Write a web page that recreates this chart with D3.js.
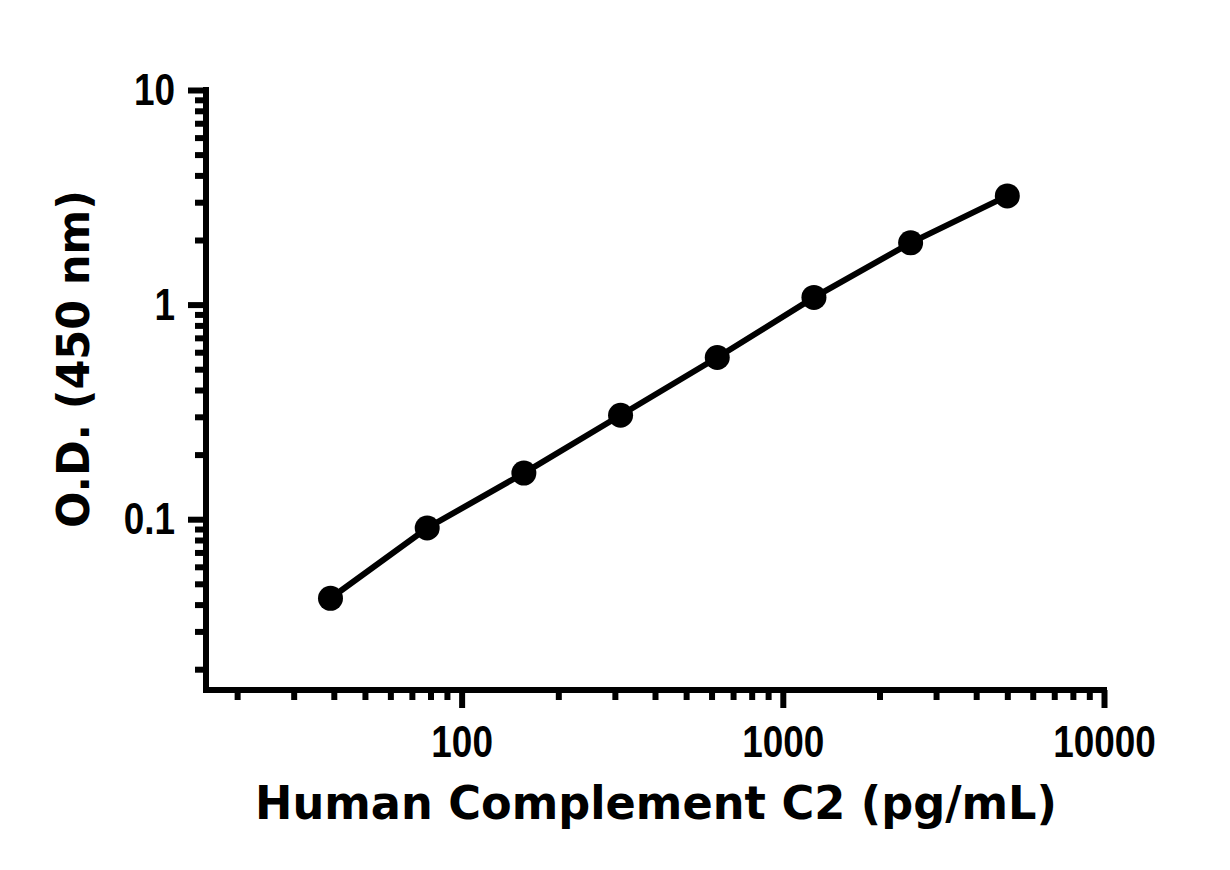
<!DOCTYPE html>
<html>
<head>
<meta charset="utf-8">
<script src="https://cdn.jsdelivr.net/npm/d3@7"></script>
<style>
  body { margin: 0; background: #fff; }
  svg { display: block; }
</style>
</head>
<body>
<div id="chart"></div>
<script>
// Standard curve: concentration (pg/mL) vs O.D. at 450 nm
const concentrations = [39.06, 78.13, 156.25, 312.5, 625, 1250, 2500, 5000]
const odValues = [0.0428, 0.091, 0.164, 0.305, 0.567, 1.08, 1.94, 3.21]

const xMajorTicks = [100, 1000, 10000]
const xMinorTicks = [20, 30, 40, 50, 60, 70, 80, 90,
  200, 300, 400, 500, 600, 700, 800, 900,
  2000, 3000, 4000, 5000, 6000, 7000, 8000, 9000]
const yMajorTicks = [0.1, 1, 10]
const yMinorTicks = [0.02, 0.03, 0.04, 0.05, 0.06, 0.07, 0.08, 0.09,
  0.2, 0.3, 0.4, 0.5, 0.6, 0.7, 0.8, 0.9,
  2, 3, 4, 5, 6, 7, 8, 9]

const xTitle = "Human Complement C2 (pg/mL)"
const yTitle = "O.D. (450 nm)"

const width = 1230
const height = 870

const svg = d3.select("#chart")
  .append("svg")
  .attr("width", width)
  .attr("height", height)

const x = d3.scaleLog().domain([16, 10000]).range([206, 1104])
const y = d3.scaleLog().domain([0.016, 10]).range([690, 90])

const tickFont = "'Liberation Sans', Arial, sans-serif"
const titleFont = "'DejaVu Sans', 'Century Gothic', sans-serif"

// Axes
const yAxisG = svg.append("g").attr("transform", `translate(${x.range()[0]},0)`)
yAxisG.append("g").call(d3.axisLeft(y).tickValues(yMinorTicks).tickSize(11).tickFormat(""))
yAxisG.append("g").call(d3.axisLeft(y).tickValues(yMajorTicks).tickSize(18).tickPadding(13)
  .tickFormat(d => d3.format("~g")(d)))

const xAxisG = svg.append("g").attr("transform", `translate(0,${y.range()[0]})`)
xAxisG.append("g").call(d3.axisBottom(x).tickValues(xMinorTicks).tickSize(10).tickFormat(""))
xAxisG.append("g").call(d3.axisBottom(x).tickValues(xMajorTicks).tickSize(18).tickPadding(17)
  .tickFormat(d => String(d)))

svg.selectAll(".domain").remove()
svg.selectAll(".tick line").attr("stroke", "#000").attr("stroke-width", 6)
svg.selectAll(".tick text")
  .attr("fill", "#000")
  .style("font-family", tickFont)
  .style("font-weight", "bold")
  .style("font-size", "45px")
  .each(function () {
    // squeeze to a narrow bold look
    const w = this.getComputedTextLength()
    d3.select(this).attr("textLength", w * 0.82).attr("lengthAdjust", "spacingAndGlyphs")
  })

// Axis lines
svg.append("line")
  .attr("x1", x.range()[0]).attr("x2", x.range()[0])
  .attr("y1", y.range()[0]).attr("y2", y.range()[1])
  .attr("stroke", "#000").attr("stroke-width", 6).attr("stroke-linecap", "square")
svg.append("line")
  .attr("x1", x.range()[0]).attr("x2", x.range()[1])
  .attr("y1", y.range()[0]).attr("y2", y.range()[0])
  .attr("stroke", "#000").attr("stroke-width", 6).attr("stroke-linecap", "square")

// Curve
const pts = concentrations.map((c, i) => ({ c, od: odValues[i] }))
svg.append("path")
  .datum(pts)
  .attr("fill", "none")
  .attr("stroke", "#000")
  .attr("stroke-width", 6)
  .attr("d", d3.line().x(d => x(d.c)).y(d => y(d.od)))

svg.append("g")
  .selectAll("circle")
  .data(pts)
  .join("circle")
  .attr("cx", d => x(d.c))
  .attr("cy", d => y(d.od))
  .attr("r", 12.5)
  .attr("fill", "#000")

// Titles
svg.append("text")
  .attr("x", 656)
  .attr("y", 819)
  .attr("text-anchor", "middle")
  .attr("textLength", 802)
  .attr("lengthAdjust", "spacingAndGlyphs")
  .style("font-family", titleFont)
  .style("font-weight", "bold")
  .style("font-size", "47px")
  .text(xTitle)

svg.append("text")
  .attr("transform", "translate(89,359) rotate(-90)")
  .attr("text-anchor", "middle")
  .attr("textLength", 338)
  .attr("lengthAdjust", "spacingAndGlyphs")
  .style("font-family", titleFont)
  .style("font-weight", "bold")
  .style("font-size", "45px")
  .text(yTitle)
</script>
</body>
</html>
